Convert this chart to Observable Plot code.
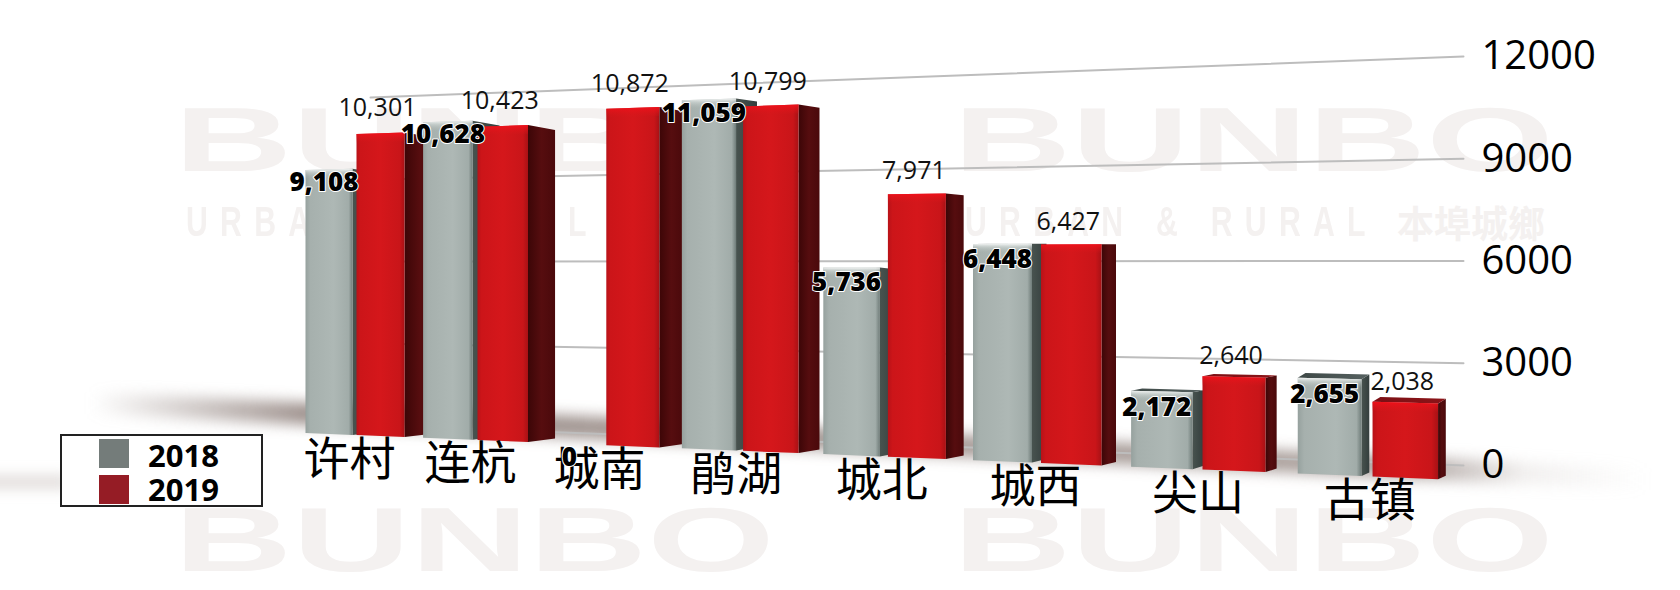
<!DOCTYPE html>
<html lang="zh">
<head>
<meta charset="utf-8">
<script src="https://cdn.jsdelivr.net/npm/d3@7"></script>
<script src="https://cdn.jsdelivr.net/npm/@observablehq/plot@0.6"></script>
<style>
html,body{margin:0;padding:0;background:#fff;width:1680px;height:590px;overflow:hidden}
#stage{position:relative;width:1680px;height:590px;overflow:hidden}
#stage svg{position:absolute;left:0;top:0}
.wm{position:absolute;color:#f4f1f0;white-space:nowrap;transform-origin:0 0;font-family:"Liberation Sans",sans-serif;font-weight:700}
.shadow{position:absolute;filter:blur(7px);transform-origin:0 50%}
#legend{position:absolute;left:60px;top:434px;width:199px;height:69px;border:2px solid #222;background:#fff;font:700 31px "Open Sans",sans-serif;color:#000}
#legend i{position:absolute;left:37px;width:30px;height:29px}
#legend span{position:absolute;left:86px;line-height:36px}
</style>
</head>
<body>
<div id="stage"></div>
<script>
// ---- data ----
const categories = ["许村","连杭","城南","鹃湖","城北","城西","尖山","古镇"];
const values2018 = [9108,10628,0,11059,5736,6448,2172,2655];
const values2019 = [10301,10423,10872,10799,7971,6427,2640,2038];
const axisTicks = [0,3000,6000,9000,12000];
const legendItems = ["2018","2019"];

// ---- perspective of the picture: value + position -> scale value ----
const yRange = [465,56], yMax = 12000;
const toScale = py => (yRange[0]-py)/(yRange[0]-yRange[1])*yMax;     // invert for warped y
const base = x => 435.6+0.0407*(x-380);
const gain = x => (29.3+0.0069*(x-380))/1000;
const frontY = (x,v) => base(x)-(v>0?1:0)-gain(x)*v;
const wallY = (x,v) => {const t=(x-370)/(1463-370); return (1-t)*(425-0.02733*v)+t*(465-0.03408*v);};

// ---- slots of the groups along the receding row ----
const redLeft = i => 356+121*i+3.9*i*(i-1)+0.025*i*(i-1)*(i-2);
const redWidth = i => 48+2.5*i;
const grayGap = i => 4+i;
const grayWidth = i => 47+2.4*i;
const depth = i => 30-2.9*i-0.04*i*i;
const lift = i => 5-0.2*i*i;

function bar(i,v,x0,x1,key){
  const d=depth(i), l=lift(i);
  const top=x=>frontY(x,v), bot=x=>frontY(x,0);
  const pts=a=>a.map(([x,y])=>({x,y:toScale(y)}));
  const out=[];
  out.push({pts:pts([[x1,bot(x1)],[x1+d,bot(x1)-3.5],[x1+d,top(x1)+l],[x1,top(x1)]]),fill:`url(#side${key})`});
  if(l<0.5) out.push({pts:pts([[x0,top(x0)],[x1,top(x1)],[x1+d,top(x1)+l],[x0+d,top(x0)+l]]),fill:`url(#top${key})`});
  out.push({pts:pts([[x0,top(x0)],[x1,top(x1)],[x1,bot(x1)],[x0,bot(x0)]]),fill:`url(#front${key})`});
  out.push({pts:pts([[x0,top(x0)],[x1,top(x1)],[x1,top(x1)+9],[x0,top(x0)+9]]),fill:`url(#gloss${key})`});
  return out;
}

const polys=[];
categories.forEach((c,i)=>{
  const r=redLeft(i);
  const gr=r-grayGap(i), gl=gr-grayWidth(i);
  if(values2018[i]>0) polys.push(...bar(i,values2018[i],gl,gr,"18"));
  polys.push(...bar(i,values2019[i],r,r+redWidth(i),"19"));
});

const labels18=categories.map((c,i)=>{
  const gr=redLeft(i)-grayGap(i), cx=gr-grayWidth(i)/2;
  return {x:cx-5,y:toScale(frontY(cx,values2018[i])+13+0.5*i),t:d3.format(",")(values2018[i])};
});
const labels19=categories.map((c,i)=>{
  const cx=redLeft(i)+redWidth(i)/2;
  return {x:cx-3,y:toScale(frontY(cx,values2019[i])-(25-0.6*i)),t:d3.format(",")(values2019[i])};
});
const catLabels=categories.map((c,i)=>{
  const cx=redLeft(i)-7+0.012*i*i*i;
  return {x:cx,y:toScale(base(cx)+25),t:c};
});
const grid=axisTicks.flatMap(v=>[370,1463].map(x=>({v,x,y:toScale(wallY(x,v))})));

function stops(el,id,list,vertical){
  const g=el.append("linearGradient").attr("id",id).attr("x1",0).attr("y1",0)
    .attr("x2",vertical?0:1).attr("y2",vertical?1:0);
  list.forEach(([o,c,a])=>g.append("stop").attr("offset",o).attr("stop-color",c).attr("stop-opacity",a==null?1:a));
}
const defs=()=>{
  const s=d3.create("svg:g"); const e=s.append("defs");
  stops(e,"front18",[[0,"#96a19e"],[.1,"#a6b0ad"],[.6,"#aeb8b5"],[.92,"#a1aca9"],[1,"#6f7c79"]]);
  stops(e,"side18",[[0,"#48534f"],[1,"#343e3d"]]);
  stops(e,"top18",[[0,"#3d4846"],[1,"#566160"]]);
  stops(e,"gloss18",[[0,"#ffffff",.85],[.35,"#dfe5e3",.5],[1,"#aeb8b5",0]],true);
  stops(e,"front19",[[0,"#b81218"],[.08,"#cc1519"],[.5,"#d5171b"],[.9,"#c91519"],[1,"#a81115"]]);
  stops(e,"side19",[[0,"#3c0607"],[.5,"#560d0f"],[1,"#4a090b"]]);
  stops(e,"top19",[[0,"#7b1015"],[1,"#8c1418"]]);
  stops(e,"gloss19",[[0,"#f4101a",.9],[1,"#d5171b",0]],true);
  return s.node();
};

const sans='"Open Sans",sans-serif', cjk='"Noto Sans CJK SC",sans-serif';
const chart=Plot.plot({
  width:1680,height:590,
  marginTop:0,marginBottom:0,marginLeft:0,marginRight:199,
  style:{background:"transparent",fontFamily:sans,color:"#000"},
  x:{domain:[0,1481],axis:null},
  y:{domain:[0,yMax],range:yRange,label:null},
  marks:[
    defs,
    Plot.line(grid,{x:"x",y:"y",z:"v",stroke:"#bdbdbd",strokeWidth:2}),
    Plot.axisY(axisTicks,{anchor:"right",tickSize:0,tickPadding:0,tickFormat:d=>String(d),fontSize:40,fontFamily:sans,label:null,fill:"#000"}),
    ...polys.map(p=>Plot.line(p.pts,{x:"x",y:"y",fill:p.fill,stroke:"none"})),
    Plot.text(catLabels,{x:"x",y:"y",text:"t",fontSize:46,fontFamily:cjk,fill:"#000"}),
    Plot.text(labels19,{x:"x",y:"y",text:"t",fontSize:25,fontFamily:sans,fill:"#111"}),
    Plot.text(labels18,{x:"x",y:"y",text:"t",fontSize:26,fontWeight:800,fontFamily:sans,fill:"#000",stroke:"#fff",strokeWidth:2})
  ]
});

const stage=document.getElementById("stage");
// watermark and floor shadow sit behind the chart
[174,953].forEach(x=>{
  stage.insertAdjacentHTML("beforeend",`<div class="wm" style="left:${x}px;top:100px;font-size:90px;line-height:80px;transform:scaleX(1.82)">BUNBO</div>`);
  stage.insertAdjacentHTML("beforeend",`<div class="wm" style="left:${x+12}px;top:202px;font-size:42px;line-height:40px;letter-spacing:17px;transform:scaleX(.72)">URBAN &amp; RURAL</div>`);
  stage.insertAdjacentHTML("beforeend",`<div class="wm" style="left:${x+12+432}px;top:202px;font-family:'Noto Sans CJK SC';font-size:37px;line-height:40px">本埠城鄉</div>`);
  stage.insertAdjacentHTML("beforeend",`<div class="wm" style="left:${x}px;top:500px;font-size:90px;line-height:80px;transform:scaleX(1.82)">BUNBO</div>`);
});
stage.insertAdjacentHTML("beforeend",`<div class="shadow" style="left:90px;top:392px;width:1560px;height:22px;transform:rotate(2.8deg);background:linear-gradient(to right,rgba(150,135,130,0),rgba(140,125,120,.85) 14%,rgba(140,125,120,.7) 85%,rgba(180,170,165,.18) 92%,rgba(180,170,165,0))"></div>`);
stage.insertAdjacentHTML("beforeend",`<div class="shadow" style="left:-20px;top:476px;width:90px;height:12px;background:rgba(190,180,175,.5)"></div>`);
stage.appendChild(chart);
const leg=document.createElement("div"); leg.id="legend";
leg.innerHTML=legendItems.map((t,i)=>`<i style="top:${3+i*36}px;background:${i?"#951c25":"#747c7a"}"></i><span style="top:${1+i*34}px">${t}</span>`).join("");
stage.appendChild(leg);
</script>
</body>
</html>
